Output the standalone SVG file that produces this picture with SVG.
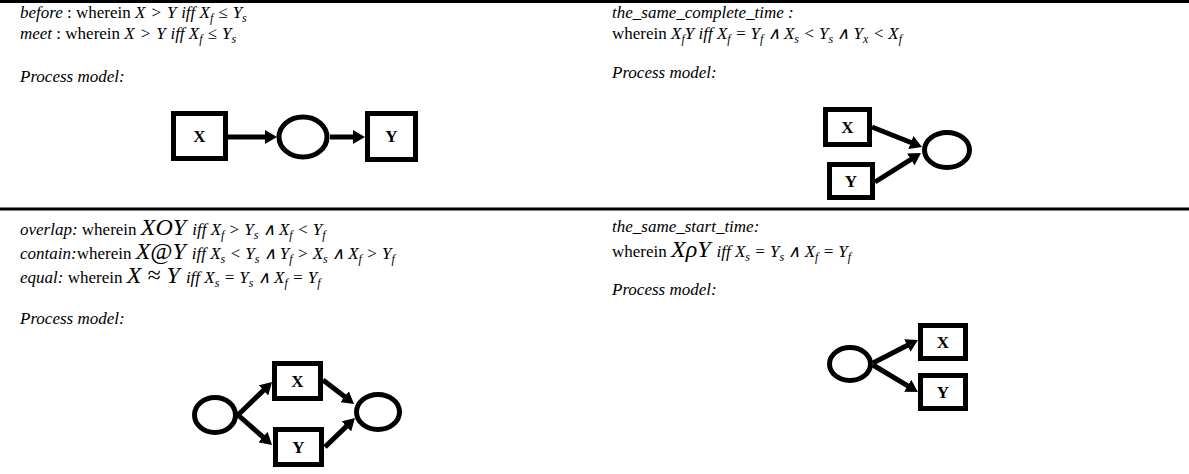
<svg xmlns="http://www.w3.org/2000/svg" width="1189" height="474" viewBox="0 0 1189 474">
<style>
text{font-family:"Liberation Serif","Times New Roman",serif;font-size:17px;fill:#000}
.i{font-style:italic}
.m{font-style:italic;font-size:17px}
.big{font-style:italic;font-size:24px}
.sub{font-size:12px;font-style:italic}
.lbl{font-weight:bold;font-size:17px;text-anchor:middle}
.box{fill:#fff;stroke:#000;stroke-width:5}
.pl{fill:#fff;stroke:#000;stroke-width:5}
.rule{stroke:#000;stroke-width:3}
.arc{stroke:#000;stroke-width:5;fill:none;marker-end:url(#ah)}
</style>
<defs>
<marker id="ah" markerUnits="userSpaceOnUse" markerWidth="14" markerHeight="14" refX="4" refY="7" orient="auto" viewBox="0 0 14 14">
<path d="M0,0 L12,7 L0,14 z" fill="#000"/>
</marker>
</defs>
<rect width="1189" height="474" fill="#fff"/>
<g id="rules">
<line class="rule" x1="0" y1="1.5" x2="1189" y2="1.5"/>
<line class="rule" x1="0" y1="209" x2="1189" y2="209"/>
</g>
<g id="texts">
<text x="20" y="18"><tspan class="i">before</tspan> : wherein <tspan class="m">X</tspan><tspan class="m" dx="5">&gt;</tspan><tspan class="m" dx="5">Y</tspan><tspan class="i" dx="6">iff </tspan><tspan class="m">X</tspan><tspan class="sub" dy="4">f</tspan><tspan class="m" dy="-4" dx="5">≤</tspan><tspan class="m" dx="5">Y</tspan><tspan class="sub" dy="4">s</tspan></text>
<text x="20" y="39"><tspan class="i">meet</tspan> : wherein <tspan class="m">X</tspan><tspan class="m" dx="5">&gt;</tspan><tspan class="m" dx="5">Y</tspan><tspan class="i" dx="6">iff </tspan><tspan class="m">X</tspan><tspan class="sub" dy="4">f</tspan><tspan class="m" dy="-4" dx="5">≤</tspan><tspan class="m" dx="5">Y</tspan><tspan class="sub" dy="4">s</tspan></text>
<text x="20" y="82" class="i">Process model:</text>
<text x="612" y="18" class="i">the_same_complete_time :</text>
<text x="612" y="39">wherein <tspan class="m">X</tspan><tspan class="sub" dy="4">f</tspan><tspan class="m" dy="-4">Y </tspan><tspan class="i">iff </tspan><tspan class="m">X</tspan><tspan class="sub" dy="4">f</tspan><tspan class="m" dy="-4"> = Y</tspan><tspan class="sub" dy="4">f</tspan><tspan class="m" dy="-4"> ∧ X</tspan><tspan class="sub" dy="4">s</tspan><tspan class="m" dy="-4"> &lt; Y</tspan><tspan class="sub" dy="4">s</tspan><tspan class="m" dy="-4"> ∧ Y</tspan><tspan class="sub" dy="4">x</tspan><tspan class="m" dy="-4"> &lt; X</tspan><tspan class="sub" dy="4">f</tspan></text>
<text x="612" y="78" class="i">Process model:</text>
<text x="20" y="235"><tspan class="i">overlap:</tspan> wherein <tspan class="big">XOY </tspan><tspan class="i">iff </tspan><tspan class="m">X</tspan><tspan class="sub" dy="4">f</tspan><tspan class="m" dy="-4"> &gt; Y</tspan><tspan class="sub" dy="4">s</tspan><tspan class="m" dy="-4"> ∧ X</tspan><tspan class="sub" dy="4">f</tspan><tspan class="m" dy="-4"> &lt; Y</tspan><tspan class="sub" dy="4">f</tspan></text>
<text x="20" y="259"><tspan class="i">contain:</tspan>wherein <tspan class="big">X@Y </tspan><tspan class="i">iff </tspan><tspan class="m">X</tspan><tspan class="sub" dy="4">s</tspan><tspan class="m" dy="-4"> &lt; Y</tspan><tspan class="sub" dy="4">s</tspan><tspan class="m" dy="-4"> ∧ Y</tspan><tspan class="sub" dy="4">f</tspan><tspan class="m" dy="-4"> &gt; X</tspan><tspan class="sub" dy="4">s</tspan><tspan class="m" dy="-4"> ∧ X</tspan><tspan class="sub" dy="4">f</tspan><tspan class="m" dy="-4"> &gt; Y</tspan><tspan class="sub" dy="4">f</tspan></text>
<text x="20" y="283"><tspan class="i">equal:</tspan> wherein <tspan class="big">X&#160;≈&#160;Y </tspan><tspan class="i">iff </tspan><tspan class="m">X</tspan><tspan class="sub" dy="4">s</tspan><tspan class="m" dy="-4"> = Y</tspan><tspan class="sub" dy="4">s</tspan><tspan class="m" dy="-4"> ∧ X</tspan><tspan class="sub" dy="4">f</tspan><tspan class="m" dy="-4"> = Y</tspan><tspan class="sub" dy="4">f</tspan></text>
<text x="20" y="324" class="i">Process model:</text>
<text x="612" y="232" class="i">the_same_start_time:</text>
<text x="612" y="257">wherein <tspan class="big">XρY </tspan><tspan class="i">iff </tspan><tspan class="m">X</tspan><tspan class="sub" dy="4">s</tspan><tspan class="m" dy="-4"> = Y</tspan><tspan class="sub" dy="4">s</tspan><tspan class="m" dy="-4"> ∧ X</tspan><tspan class="sub" dy="4">f</tspan><tspan class="m" dy="-4"> = Y</tspan><tspan class="sub" dy="4">f</tspan></text>
<text x="612" y="295" class="i">Process model:</text>
</g>
<g id="connectors">
<line class="arc" x1="228" y1="137" x2="269" y2="137"/>
<line class="arc" x1="330" y1="137" x2="357" y2="137"/>
<line class="arc" x1="872" y1="127" x2="914.6" y2="144"/>
<line class="arc" x1="875" y1="182" x2="914.2" y2="157.3"/>
<line class="arc" x1="238" y1="415" x2="266.3" y2="387.6"/>
<line class="arc" x1="238" y1="415" x2="266" y2="439.7"/>
<line class="arc" x1="323" y1="380" x2="347.7" y2="399.1"/>
<line class="arc" x1="325" y1="447" x2="349.2" y2="423.6"/>
<line class="arc" x1="873" y1="363" x2="910.9" y2="343.6"/>
<line class="arc" x1="873" y1="365" x2="911.1" y2="387.9"/>
</g>
<g id="n1-x"><rect class="box" x="173.5" y="113.5" width="52" height="45"/><text class="lbl" x="199.5" y="142">X</text></g>
<g id="n1-p"><ellipse class="pl" cx="303" cy="137" rx="24" ry="20"/></g>
<g id="n1-y"><rect class="box" x="367.5" y="113.5" width="48" height="46"/><text class="lbl" x="391.5" y="142">Y</text></g>
<g id="n2-x"><rect class="box" x="825.5" y="109.5" width="44" height="35"/><text class="lbl" x="847.5" y="133">X</text></g>
<g id="n2-y"><rect class="box" x="829.5" y="164.5" width="43" height="33"/><text class="lbl" x="851" y="187">Y</text></g>
<g id="n2-p"><ellipse class="pl" cx="947" cy="150" rx="22.5" ry="17.5"/></g>
<g id="n3-p1"><ellipse class="pl" cx="215" cy="415" rx="20.5" ry="17.5"/></g>
<g id="n3-x"><rect class="box" x="274.5" y="363.5" width="46" height="35"/><text class="lbl" x="297.5" y="387">X</text></g>
<g id="n3-y"><rect class="box" x="275.5" y="429.5" width="46" height="35"/><text class="lbl" x="298.5" y="453">Y</text></g>
<g id="n3-p2"><ellipse class="pl" cx="378" cy="412" rx="21.5" ry="17.5"/></g>
<g id="n4-p"><ellipse class="pl" cx="850" cy="364" rx="20.5" ry="16.5"/></g>
<g id="n4-x"><rect class="box" x="920.5" y="325.5" width="45" height="33"/><text class="lbl" x="943" y="348">X</text></g>
<g id="n4-y"><rect class="box" x="920.5" y="375.5" width="45" height="33"/><text class="lbl" x="943" y="398">Y</text></g>
</svg>
